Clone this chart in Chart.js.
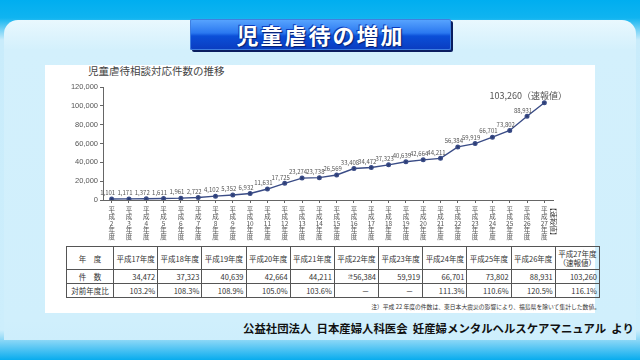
<!DOCTYPE html>
<html><head><meta charset="utf-8">
<script src="https://cdn.jsdelivr.net/npm/chart.js@4.4.1/dist/chart.umd.min.js"></script>
<style>
html,body{margin:0;padding:0;}
body{width:640px;height:360px;position:relative;overflow:hidden;font-family:"Noto Sans CJK JP","Noto Sans",sans-serif;
background:linear-gradient(to bottom,#00aef0 0px,#10b4f0 18px,#c9ecfb 40px,#cdeefc 330px,#7fd3f6 342px,#08acee 360px);}
#panel{position:absolute;left:4px;top:20px;width:632px;height:320px;border-radius:14px 14px 0 0;
background:linear-gradient(to bottom,#e9f8fe 0px,#d3f0fc 30px,#d0effc 300px,#cdeefc 320px);}
#titlebox{position:absolute;left:190px;top:19px;width:261px;height:31px;border-radius:2px;
background:linear-gradient(to bottom,#5aa6ff 0%,#2a78f0 45%,#0b4fd8 55%,#0a3cc0 100%);
box-shadow:2px 2px 0 #0a1e60, 0 0 0 1px #3f7fe0 inset;color:#fff;font-weight:bold;font-size:22px;
text-align:center;line-height:31px;letter-spacing:2px;text-shadow:1px 1px 1px #062070,-1px -1px 0 #0a3cc0;}
#white{position:absolute;left:45px;top:65px;width:550px;height:248px;background:#fff;}
#sub{position:absolute;left:88px;top:63px;font-size:10.5px;color:#444;}
#wrap{position:absolute;left:0;top:0;width:640px;height:242px;}
table{position:absolute;left:66px;top:246px;width:534px;border-collapse:collapse;font-size:7.5px;color:#333;}
td{border:1px solid #555;padding:0 2px;height:13px;line-height:9px;}
tr.h td{height:22px;text-align:center;}
td.n{text-align:right;}
td.l{text-align:center;width:42px;}
#note{position:absolute;right:40px;top:302px;font-size:5.8px;color:#333;}
#src{position:absolute;left:243px;top:320px;font-size:11.4px;font-weight:bold;color:#111;letter-spacing:0px;}
</style></head>
<body>
<div id="panel"></div>
<div id="titlebox">児童虐待の増加</div>
<div id="white"></div>
<div id="sub">児童虐待相談対応件数の推移</div>
<div id="wrap"><canvas id="c" width="640" height="242"></canvas></div>
<table id="tbl"></table>
<div id="note">注）平成 22 年度の件数は、東日本大震災の影響により、福島県を除いて集計した数値。</div>
<div id="src">公益社団法人&nbsp;&nbsp;日本産婦人科医会&nbsp;&nbsp;妊産婦メンタルヘルスケアマニュアル&nbsp;&nbsp;より</div>
<script>
// ---- data ----
const years = ['2','3','4','5','6','7','8','9','10','11','12','13','14','15','16','17','18','19','20','21','22','23','24','25','26','27'];
const counts = [1101,1171,1372,1611,1961,2722,4102,5352,6932,11631,17725,23274,23738,26569,33408,34472,37323,40639,42664,44211,56384,59919,66701,73802,88931,103260];
const yTicks = [0,20000,40000,60000,80000,100000,120000];
const tableYears = ['平成17年度','平成18年度','平成19年度','平成20年度','平成21年度','平成22年度','平成23年度','平成24年度','平成25年度','平成26年度','平成27年度<br>（速報値）'];
const tableCounts = ['34,472','37,323','40,639','42,664','44,211','※56,384','59,919','66,701','73,802','88,931','103,260'];
const tableRatios = ['103.2%','108.3%','108.9%','105.0%','103.6%','－','－','111.3%','110.6%','120.5%','116.1%'];

// ---- table ----
const tbl = document.getElementById('tbl');
let h = '<tr class="h"><td class="l">年　度</td>' + tableYears.map(y=>'<td>'+y+'</td>').join('') + '</tr>';
h += '<tr><td class="l">件　数</td>' + tableCounts.map(v=>'<td class="n">'+v.replace('※','<span style="font-size:5px;line-height:5px;vertical-align:2px">注</span>')+'</td>').join('') + '</tr>';
h += '<tr><td class="l">対前年度比</td>' + tableRatios.map(v=>'<td class="n"'+(v==='－'?' style="text-align:center;padding-left:20px"':'')+'>'+v+'</td>').join('') + '</tr>';
tbl.innerHTML = h;

// ---- chart ----
const labels = years.map(y=>['平','成',y,'年','度']);
const fmt = v => v.toLocaleString('en-US');
const valueLabels = {
  id:'valueLabels',
  afterDatasetsDraw(chart){
    const ctx = chart.ctx;
    const meta = chart.getDatasetMeta(0);
    ctx.save();
    ctx.fillStyle = '#555';
    ctx.textBaseline = 'bottom';
    meta.data.forEach((pt,i)=>{
      if(i === counts.length-1){
        ctx.font = '9px "Noto Sans CJK JP"';
        ctx.textAlign = 'center';
        ctx.fillText(fmt(counts[i]) + '（速報値）', pt.x-16, pt.y-3);
      } else {
        ctx.font = '6px "Noto Sans CJK JP"';
        ctx.textAlign = 'center';
        ctx.fillText(fmt(counts[i]), pt.x-4, pt.y-3);
      }
    });
    // 【速報値】 vertical label after last tick
    const xs = chart.scales.x;
    const lx = xs.getPixelForValue(counts.length-1) + 9;
    ctx.translate(lx, chart.chartArea.bottom + 4);
    ctx.rotate(Math.PI/2);
    ctx.font = '7px "Noto Sans CJK JP"';
    ctx.textAlign = 'left';
    ctx.textBaseline = 'middle';
    ctx.fillStyle = '#333';
    ctx.fillText('【速報値】', 0, 0);
    ctx.restore();
  }
};
new Chart(document.getElementById('c'), {
  type:'line',
  data:{labels, datasets:[{data:counts,borderColor:'#3a4c86',backgroundColor:'#2a3a72',borderWidth:1.4,
    pointRadius:1.8,pointHoverRadius:1.8,pointStyle:'circle',tension:0}]},
  options:{
    responsive:false,animation:false,
    layout:{padding:{left:53,top:87,right:87,bottom:0}},
    plugins:{legend:{display:false},tooltip:{enabled:false}},
    scales:{
      y:{min:0,max:120000,
        afterFit(s){s.width=50;},
        afterBuildTicks(s){s.ticks = yTicks.map(v=>({value:v}));},
        ticks:{color:'#555',font:{size:7.5,family:'"Liberation Sans"'},padding:2,callback:v=>fmt(v)},
        grid:{display:true,drawOnChartArea:false,drawTicks:true,tickLength:3,color:'#666'},
        border:{display:true,color:'#666',width:1}},
      x:{offset:true,
        afterFit(s){s.height=42;},
        ticks:{color:'#555',font:{size:6.5,family:'"Noto Sans CJK JP"',lineHeight:1.05},padding:3,maxRotation:0,autoSkip:false},
        grid:{display:true,drawOnChartArea:false,drawTicks:true,tickLength:3,color:'#666',offset:false},
        border:{display:true,color:'#666',width:1}}
    }
  },
  plugins:[valueLabels]
});
</script>
</body></html>
